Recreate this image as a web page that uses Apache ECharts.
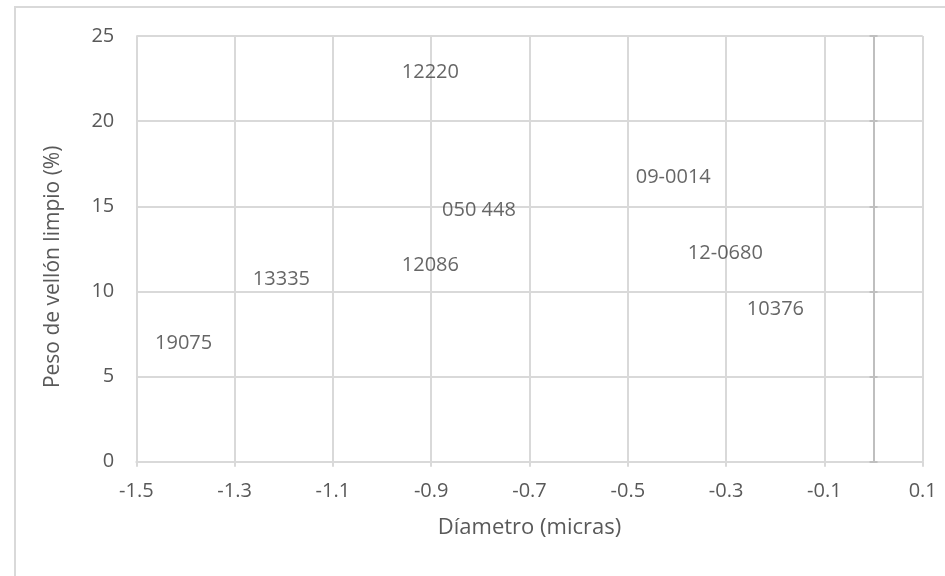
<!DOCTYPE html>
<html>
<head>
<meta charset="utf-8">
<script src="https://cdn.jsdelivr.net/npm/echarts@6/dist/echarts.min.js"></script>
<style>
html,body{margin:0;padding:0;background:#fff;}
#c{width:945px;height:576px;}
#frame{position:absolute;left:14px;top:6px;width:945px;height:600px;border:2px solid #d9d9d9;box-sizing:border-box;}
</style>
</head>
<body>
<div id="frame"></div>
<div id="c" style="position:absolute;left:0;top:0;"></div>
<script>
const pointNames = ['19075','13335','12220','12086','050 448','09-0014','12-0680','10376'];
const diametro = [-1.472,-1.273,-0.970,-0.970,-0.888,-0.494,-0.388,-0.268];
const peso = [6.97,10.71,22.84,11.55,14.74,16.70,12.24,8.95];
const xTicks = {min:-1.5, max:0.1, interval:0.2};
const yTicks = {min:0, max:25, interval:5};

const data = pointNames.map((n,i)=>({name:n, value:[diametro[i], peso[i]]}));
const txt = '#595959';
const font = 'Open Sans, Liberation Sans, sans-serif';

const chart = echarts.init(document.getElementById('c'));
chart.setOption({
  backgroundColor:'transparent',
  animation:false,
  grid:{left:136.3, right:22.3, top:36, bottom:114.3},
  xAxis:{
    type:'value', min:xTicks.min, max:xTicks.max, interval:xTicks.interval,
    name:'Díametro (micras)', nameLocation:'middle', nameGap:55,
    nameTextStyle:{color:txt, fontSize:22, fontFamily:font},
    axisLine:{onZero:false, lineStyle:{color:'#d9d9d9', width:2}},
    axisTick:{show:true, length:5, lineStyle:{color:'#d9d9d9', width:2}},
    axisLabel:{color:txt, fontSize:20, fontFamily:font, margin:20,
      formatter:v=>{const r=Math.round(v*10)/10; return (Math.abs(r)<1e-9?'0':String(r));}},
    splitLine:{show:true, lineStyle:{color:'#d9d9d9', width:2}}
  },
  yAxis:[{
    type:'value', min:yTicks.min, max:yTicks.max, interval:yTicks.interval,
    name:'Peso de vellón limpio (%)', nameLocation:'middle', nameGap:73,
    nameTextStyle:{color:txt, fontSize:21, fontFamily:font, padding:[0,36,0,0]},
    axisLine:{show:false, onZero:false},
    axisTick:{show:false},
    axisLabel:{color:txt, fontSize:20, fontFamily:font, margin:22},
    splitLine:{show:true, lineStyle:{color:'#d9d9d9', width:2}}
  },{
    type:'value', min:yTicks.min, max:yTicks.max, interval:yTicks.interval,
    position:'left',
    axisLine:{show:true, onZero:true, onZeroAxisIndex:0, lineStyle:{color:'#bfbfbf', width:2}},
    axisTick:{show:true, length:4, lineStyle:{color:'#bfbfbf', width:2}},
    axisLabel:{show:false}, splitLine:{show:false}
  },{
    type:'value', min:yTicks.min, max:yTicks.max, interval:yTicks.interval,
    position:'left',
    axisLine:{show:false, onZero:true, onZeroAxisIndex:0},
    axisTick:{show:true, inside:true, length:4, lineStyle:{color:'#bfbfbf', width:2}},
    axisLabel:{show:false}, splitLine:{show:false}
  }],
  series:[{
    type:'scatter', data:data, symbolSize:0,
    label:{show:true, position:'right', distance:5, formatter:p=>p.name,
      color:'#404040', fontSize:20, fontFamily:font}
  }]
});
</script>
</body>
</html>
